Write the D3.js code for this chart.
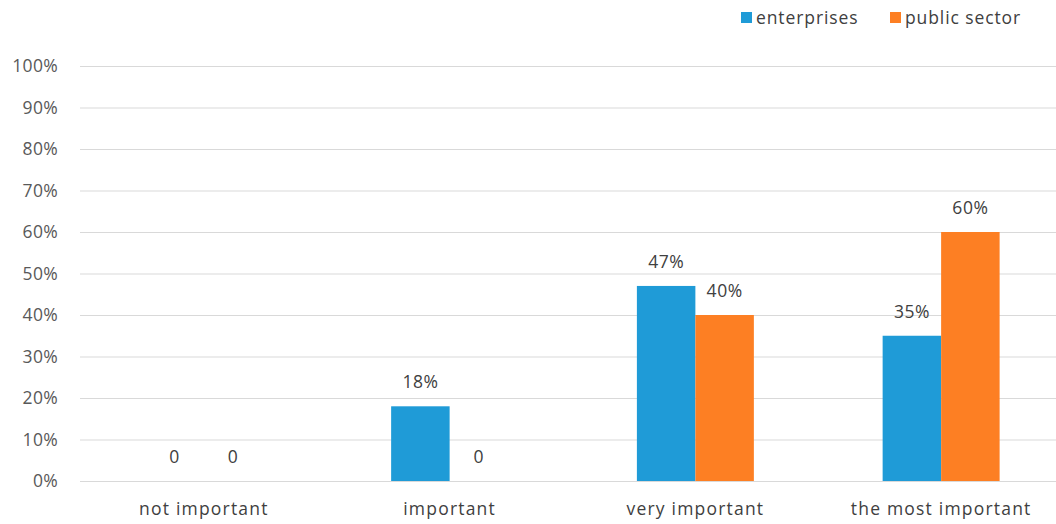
<!DOCTYPE html>
<html><head><meta charset="utf-8">
<script src="https://cdn.jsdelivr.net/npm/d3@7"></script>
<style>body{margin:0;background:#fff}svg{display:block}text{font-family:"Open Sans",Lato,sans-serif}</style>
</head><body><svg id="c" width="1056" height="524"></svg>
<script>
const categories = ["not important","important","very important","the most important"];
const seriesNames = ["enterprises","public sector"];
const enterprises = [0,18,47,35];
const publicSector = [0,0,40,60];
const labelsEnterprises = ["0","18%","47%","35%"];
const labelsPublic = ["0","0","40%","60%"];
const yTicks = [0,10,20,30,40,50,60,70,80,90,100];
const colors = ["#1f9bd7","#fd7f23"];

const svg = d3.select("#c");
const W = 1056, H = 524;
const m = {l:80,t:66,b:43};
const plotRight = 1064; // plot area extends past the cropped right edge
const FS = 17.5;
const LS = "1.2px";
const x0 = d3.scaleBand().domain(categories).range([m.l+1, plotRight]).paddingInner(0.524).paddingOuter(0.262);
const x1 = d3.scaleBand().domain(seriesNames).range([0, x0.bandwidth()]);
const y = d3.scaleLinear().domain([0,100]).range([H-m.b, m.t]);

// gridlines
svg.append("g").selectAll("line").data(yTicks).join("line")
  .attr("x1", m.l).attr("x2", W).attr("y1", d=>y(d)+0.5).attr("y2", d=>y(d)+0.5)
  .attr("stroke","#d9d9d9").attr("stroke-width",1);

// y axis
const ya = svg.append("g").attr("transform",`translate(${m.l-19},0)`)
  .call(d3.axisLeft(y).tickValues(yTicks).tickFormat(d=>d+"%").tickSize(0));
ya.select(".domain").remove();
ya.selectAll("text").attr("fill","#595959").attr("font-size",FS).attr("font-family",null).attr("letter-spacing","0.3px");

// x axis
const xa = svg.append("g").attr("transform",`translate(0,${H-m.b})`)
  .call(d3.axisBottom(x0).tickSize(0));
xa.select(".domain").remove();
xa.selectAll("text").attr("fill","#404040").attr("font-size",FS).attr("font-family",null)
  .attr("letter-spacing",LS).attr("dy",31);

const data = categories.map((c,i)=>({c, vals:[
  {s:seriesNames[0], v:enterprises[i], lab:labelsEnterprises[i]},
  {s:seriesNames[1], v:publicSector[i], lab:labelsPublic[i]}]}));

const g = svg.append("g").selectAll("g").data(data).join("g")
  .attr("transform", d=>`translate(${x0(d.c)},0)`);
g.selectAll("rect").data(d=>d.vals).join("rect")
  .attr("x", d=>x1(d.s)).attr("width", x1.bandwidth())
  .attr("y", d=>y(d.v)).attr("height", d=>y(0)-y(d.v))
  .attr("fill", (d,i)=>colors[i]);
g.selectAll("text").data(d=>d.vals).join("text")
  .attr("x", d=>x1(d.s)+x1.bandwidth()/2).attr("y", d=>y(d.v)-18)
  .attr("text-anchor","middle").attr("font-size",FS).attr("letter-spacing","0.5px").attr("fill","#404040")
  .text(d=>d.lab);

// legend
const leg = svg.append("g");
const legX = [741, 890];
seriesNames.forEach((s,i)=>{
  leg.append("rect").attr("x",legX[i]).attr("y",12).attr("width",11).attr("height",11).attr("fill",colors[i]);
  leg.append("text").attr("x",legX[i]+15).attr("y",24).attr("font-size",FS).attr("letter-spacing","0.9px")
    .attr("fill","#404040").text(s);
});
</script></body></html>
